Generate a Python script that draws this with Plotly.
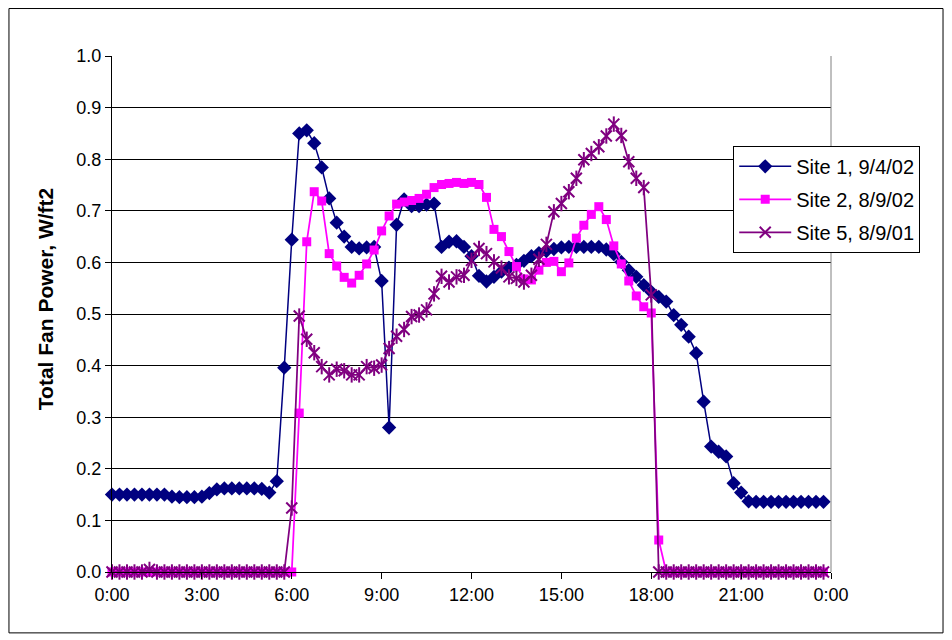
import plotly.graph_objects as go

# 15-minute readings, 0:00 .. 23:45
times_hr = [i * 0.25 for i in range(96)]

site1 = [0.150, 0.150, 0.150, 0.150, 0.150, 0.150, 0.150, 0.150,
         0.146, 0.145, 0.145, 0.145, 0.146, 0.153,
         0.160, 0.162, 0.162, 0.162, 0.162, 0.162, 0.161, 0.154, 0.176,
         0.396, 0.644, 0.850, 0.856, 0.831, 0.784, 0.724, 0.677, 0.650,
         0.630, 0.627, 0.629, 0.630, 0.564, 0.280, 0.673, 0.722,
         0.709, 0.709, 0.712, 0.714, 0.630, 0.640, 0.641, 0.630,
         0.612, 0.574, 0.563, 0.572, 0.582, 0.590, 0.595, 0.603,
         0.612, 0.618, 0.622, 0.626, 0.629, 0.630, 0.630, 0.630,
         0.630, 0.630, 0.625, 0.616, 0.601, 0.585, 0.572, 0.556,
         0.543, 0.533, 0.524, 0.498, 0.479, 0.456, 0.424, 0.330,
         0.243, 0.233, 0.224, 0.172, 0.154, 0.137,
         0.136, 0.136, 0.136, 0.136, 0.136, 0.136, 0.136, 0.136, 0.136, 0.136]

site2 = [0.0] * 25 + [
         0.308, 0.640, 0.737, 0.719, 0.617, 0.593, 0.571, 0.560,
         0.575, 0.597, 0.624, 0.661, 0.690, 0.713, 0.717, 0.720,
         0.724, 0.732, 0.745, 0.751, 0.753, 0.755, 0.753, 0.755,
         0.751, 0.726, 0.664, 0.650, 0.621, 0.592, 0.568, 0.566,
         0.585, 0.600, 0.602, 0.582, 0.599, 0.647, 0.672, 0.693,
         0.708, 0.683, 0.632, 0.597, 0.564, 0.535, 0.514, 0.502,
         0.062] + [0.0] * 22

site5 = [0.0, 0.0, 0.0, 0.0, 0.0, 0.005, 0.0, 0.0, 0.0, 0.0, 0.0, 0.0,
         0.0, 0.0, 0.0, 0.0, 0.0, 0.0, 0.0, 0.0, 0.0, 0.0, 0.0, 0.0,
         0.124, 0.496, 0.451, 0.425, 0.398, 0.382, 0.393, 0.390,
         0.382, 0.382, 0.398, 0.395, 0.401, 0.433, 0.457, 0.470,
         0.495, 0.498, 0.508, 0.539, 0.573, 0.562, 0.572, 0.575,
         0.604, 0.627, 0.617, 0.601, 0.589, 0.572, 0.569, 0.562,
         0.575, 0.606, 0.635, 0.698, 0.714, 0.737, 0.763, 0.799,
         0.811, 0.824, 0.845, 0.868, 0.846, 0.795, 0.763, 0.745,
         0.537] + [0.0] * 23

series_names = ["Site 1, 9/4/02", "Site 2, 8/9/02", "Site 5, 8/9/01"]
x_tick_vals = [0, 3, 6, 9, 12, 15, 18, 21, 24]
x_tick_text = ["0:00", "3:00", "6:00", "9:00", "12:00", "15:00", "18:00", "21:00", "0:00"]
y_title = "Total Fan Power, W/ft2"

FONT = "Arial, 'Liberation Sans', sans-serif"
NAVY = "#000080"
MAGENTA = "#FF00FF"
PURPLE = "#800080"

fig = go.Figure()
fig.add_trace(go.Scatter(
    x=times_hr, y=site1, name=series_names[0], mode="lines+markers",
    line=dict(color=NAVY, width=1.5),
    marker=dict(symbol="diamond", size=11, color=NAVY),
    cliponaxis=False, legendgroup="a"))
fig.add_trace(go.Scatter(
    x=times_hr, y=site2, name=series_names[1], mode="lines+markers",
    line=dict(color=MAGENTA, width=1.75),
    marker=dict(symbol="square", size=9, color=MAGENTA),
    cliponaxis=False, legendgroup="b"))
fig.add_trace(go.Scatter(
    x=times_hr, y=site5, name=series_names[2], mode="lines+markers",
    line=dict(color=PURPLE, width=1.75),
    marker=dict(symbol="x-thin-open", size=11, color=PURPLE,
                line=dict(color=PURPLE, width=2)),
    cliponaxis=False, legendgroup="c"))
fig.add_trace(go.Scatter(
    x=times_hr, y=site5, name=series_names[2], mode="markers",
    marker=dict(symbol="line-ns-open", size=11, color=PURPLE,
                line=dict(color=PURPLE, width=2)),
    cliponaxis=False, showlegend=False, legendgroup="c", hoverinfo="skip"))

fig.update_layout(
    width=944, height=632,
    margin=dict(l=104, r=121, t=48, b=68),
    paper_bgcolor="white", plot_bgcolor="white",
    font=dict(family=FONT, size=17, color="black"),
    showlegend=True,
    legend=dict(x=0.864, y=0.826, xanchor="left", yanchor="top",
                bgcolor="white", bordercolor="black", borderwidth=1,
                font=dict(family=FONT, size=20, color="black"),
                tracegroupgap=4, itemwidth=52),
    xaxis=dict(range=[0, 24], tickmode="array", tickvals=x_tick_vals,
               ticktext=x_tick_text, showgrid=False, zeroline=False,
               showline=True, linecolor="black", linewidth=1,
               ticks="outside", ticklen=6, tickcolor="black",
               tickfont=dict(family=FONT, size=18)),
    yaxis=dict(range=[0, 1.0], dtick=0.1, tickformat=".1f",
               showgrid=True, gridcolor="black", gridwidth=1,
               zeroline=False, showline=True, linecolor="black", linewidth=1,
               ticks="outside", ticklen=6, tickcolor="black",
               tickfont=dict(family=FONT, size=18)),
    annotations=[dict(text="<b>" + y_title + "</b>", xref="paper", yref="paper",
                      x=-0.093, y=0.529, textangle=-90, showarrow=False,
                      xanchor="center", yanchor="middle",
                      font=dict(family=FONT, size=21, color="black"))],
    shapes=[
        dict(type="line", xref="paper", yref="paper", x0=1, x1=1, y0=0, y1=1,
             line=dict(color="#808080", width=1)),
        dict(type="rect", xref="paper", yref="paper", x0=-0.1433, x1=1.1558,
             y0=-0.118, y1=1.092, line=dict(color="black", width=1),
             fillcolor="rgba(0,0,0,0)", layer="below"),
    ],
)

fig.write_html("out.html")
